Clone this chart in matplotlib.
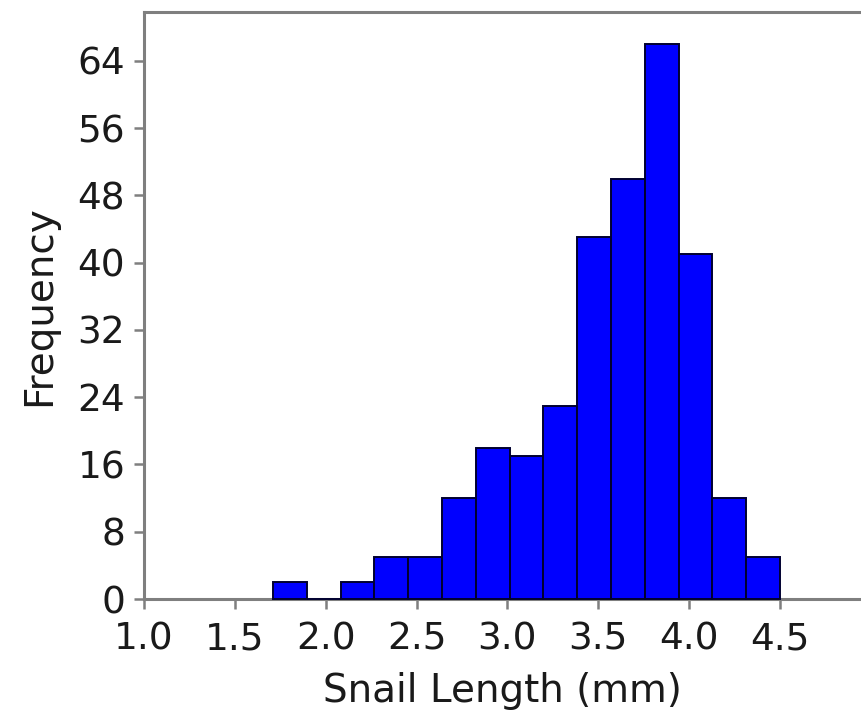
import matplotlib
matplotlib.use('Agg')
import matplotlib.pyplot as plt
import numpy as np

# histogram counts, 15 equal bins from ~1.71 to 4.5 mm
counts = [2, 0, 2, 5, 5, 12, 18, 17, 23, 43, 50, 66, 41, 12, 5]
bin_start = 1.71
bin_end = 4.5
x_ticks = [1.0, 1.5, 2.0, 2.5, 3.0, 3.5, 4.0, 4.5]
y_ticks = [0, 8, 16, 24, 32, 40, 48, 56, 64]

GRAY = '#7f7f7f'
TEXT = '#1a1a1a'


def plot_hist():
    fig = plt.figure(figsize=(8.61, 7.18), dpi=100)
    ax = fig.add_axes([0.1672, 0.1657, 1.0 - 0.1672, 0.9833 - 0.1657])

    edges = np.linspace(bin_start, bin_end, len(counts) + 1)
    ax.bar(edges[:-1], counts, width=np.diff(edges), align='edge',
           color='#0000ff', edgecolor='#000030', linewidth=1.4, zorder=3,
           clip_on=False)

    ax.set_xlim(1.0, 4.946)
    ax.set_ylim(0, 69.8)
    ax.set_xticks(x_ticks)
    ax.set_xticklabels(['%.1f' % t for t in x_ticks])
    ax.set_yticks(y_ticks)

    for side in ['left', 'bottom', 'top']:
        ax.spines[side].set_color(GRAY)
        ax.spines[side].set_linewidth(2.2)
    ax.spines['right'].set_visible(False)

    ax.tick_params(axis='both', colors=GRAY, labelcolor=TEXT, length=7.5,
                   width=1.8, labelsize=27, direction='out')
    ax.tick_params(axis='x', pad=9)
    ax.tick_params(axis='y', pad=6)

    ax.set_xlabel('Snail Length (mm)', fontsize=28, color=TEXT, labelpad=10)
    ax.set_ylabel('Frequency', fontsize=28, color=TEXT, labelpad=14)

    fig.savefig('out.png', dpi=100)


plot_hist()
